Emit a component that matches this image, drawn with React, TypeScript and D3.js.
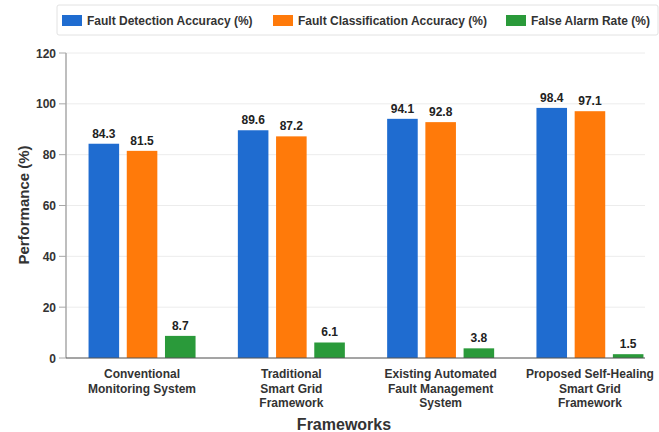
import React from "react";
import * as d3 from "d3";

const categories = [
  "Conventional Monitoring System",
  "Traditional Smart Grid Framework",
  "Existing Automated Fault Management System",
  "Proposed Self-Healing Smart Grid Framework",
];
const categoryLines = [
  ["Conventional", "Monitoring System"],
  ["Traditional", "Smart Grid", "Framework"],
  ["Existing Automated", "Fault Management", "System"],
  ["Proposed Self-Healing", "Smart Grid", "Framework"],
];
const seriesNames = [
  "Fault Detection Accuracy (%)",
  "Fault Classification Accuracy (%)",
  "False Alarm Rate (%)",
];
const detectionAccuracy = [84.3, 89.6, 94.1, 98.4];
const classificationAccuracy = [81.5, 87.2, 92.8, 97.1];
const falseAlarmRate = [8.7, 6.1, 3.8, 1.5];
const yTicks = [0, 20, 40, 60, 80, 100, 120];

const seriesValues = [detectionAccuracy, classificationAccuracy, falseAlarmRate];
const colors = ["#1f6cd0", "#ff7a0a", "#2a9a3a"];

const W = 659;
const H = 432;
const plotLeft = 66;
const plotRight = 645;
const plotTop = 53;
const plotBottom = 358;
const FONT = "'Liberation Sans', Arial, Helvetica, sans-serif";

export default function App() {
  const y = d3.scaleLinear().domain([0, 120]).range([plotBottom, plotTop]);
  const x0 = d3.scaleBand<string>().domain(categories).range([67.4, 664.6]).padding(0);
  const groupW = 107;
  const x1 = d3
    .scaleBand<string>()
    .domain(seriesNames)
    .range([-groupW / 2, groupW / 2])
    .paddingInner(0.2)
    .paddingOuter(0);

  const legendItems = [
    { sx: 62, tx: 87 },
    { sx: 273, tx: 298 },
    { sx: 506, tx: 531 },
  ];

  return (
    <svg
      width={W}
      height={H}
      style={{ position: "absolute", left: 0, top: 0, background: "#fff" }}
      fontFamily={FONT}
    >
      <rect x={0} y={0} width={W} height={H} fill="#fff" />
      {yTicks.map((t) => (
        <line
          key={"g" + t}
          x1={plotLeft}
          x2={plotRight}
          y1={y(t)}
          y2={y(t)}
          stroke="#ececec"
          strokeWidth={1}
        />
      ))}
      {categories.map((c, ci) => {
        const cx = (x0(c) as number) + x0.bandwidth() / 2;
        return (
          <g key={c}>
            {seriesNames.map((s, si) => {
              const v = seriesValues[si][ci];
              const bx = cx + (x1(s) as number);
              const bw = x1.bandwidth();
              return (
                <g key={s}>
                  <rect
                    x={bx}
                    y={y(v)}
                    width={bw}
                    height={y(0) - y(v)}
                    fill={colors[si]}
                  />
                  <text
                    x={bx + bw / 2}
                    y={y(v) - 6}
                    textAnchor="middle"
                    fontSize={12}
                    fontWeight="bold"
                    fill="#222"
                  >
                    {v.toFixed(1)}
                  </text>
                </g>
              );
            })}
            {categoryLines[ci].map((line, li) => (
              <text
                key={li}
                x={cx}
                y={378 + li * 14.5}
                textAnchor="middle"
                fontSize={12}
                fontWeight="bold"
                fill="#333"
              >
                {line}
              </text>
            ))}
          </g>
        );
      })}
      <line x1={plotLeft} x2={plotLeft} y1={plotTop} y2={plotBottom} stroke="#a8a8a8" strokeWidth={1.5} />
      {yTicks.map((t) => (
        <g key={"t" + t}>
          <line x1={plotLeft - 7} x2={plotLeft} y1={y(t)} y2={y(t)} stroke="#a8a8a8" strokeWidth={1} />
          <text
            x={plotLeft - 10}
            y={y(t) + 4.5}
            textAnchor="end"
            fontSize={12}
            fontWeight="bold"
            fill="#333"
          >
            {t}
          </text>
        </g>
      ))}
      <line x1={plotLeft} x2={plotRight} y1={plotBottom} y2={plotBottom} stroke="#555" strokeWidth={1.2} />
      <text
        transform={`translate(29, 205) rotate(-90)`}
        textAnchor="middle"
        fontSize={15}
        fontWeight="bold"
        fill="#333"
      >
        Performance (%)
      </text>
      <text x={344} y={430} textAnchor="middle" fontSize={16} fontWeight="bold" fill="#333">
        Frameworks
      </text>
      <rect x={57} y={5} width={601} height={30} rx={2} fill="#fff" stroke="#e2e2e2" strokeWidth={1} />
      {seriesNames.map((s, i) => (
        <g key={"l" + s}>
          <rect x={legendItems[i].sx} y={15} width={20} height={11} fill={colors[i]} />
          <text x={legendItems[i].tx} y={24.5} fontSize={12} fontWeight="bold" fill="#333">
            {s}
          </text>
        </g>
      ))}
    </svg>
  );
}
